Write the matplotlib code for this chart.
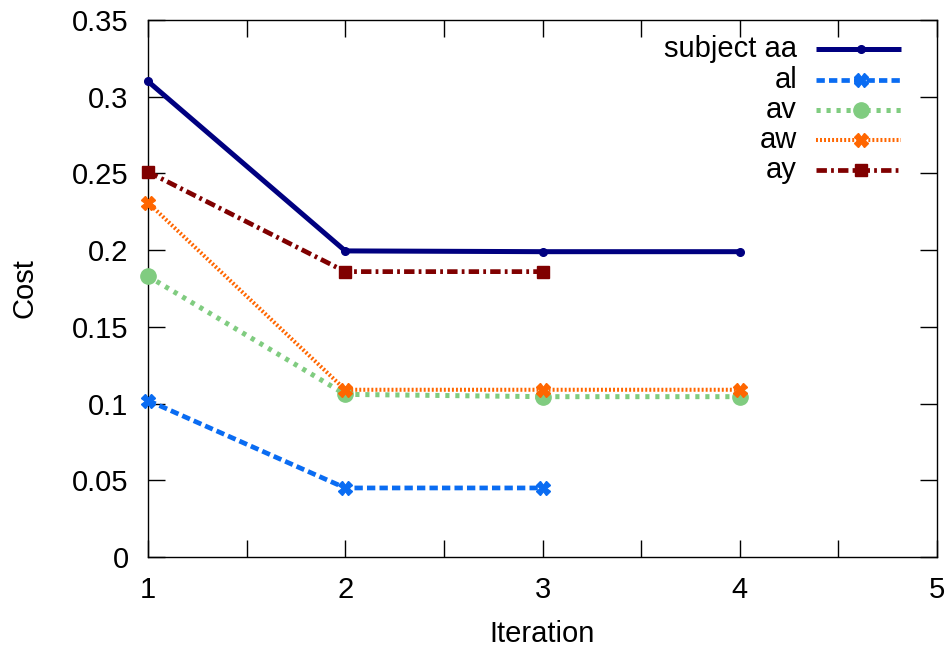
import matplotlib
matplotlib.use("Agg")
import matplotlib.pyplot as plt
from matplotlib.lines import Line2D
from matplotlib.ticker import MultipleLocator, FuncFormatter

plt.rcParams['font.family'] = ['Liberation Sans', 'DejaVu Sans']
plt.rcParams['lines.scale_dashes'] = False

# Cost per iteration for each subject
labels = ["subject aa", "al", "av", "aw", "ay"]
iters_aa = [1, 2, 3, 4]
cost_aa = [0.310, 0.1995, 0.199, 0.199]
iters_al = [1, 2, 3]
cost_al = [0.102, 0.045, 0.045]
iters_av = [1, 2, 3, 4]
cost_av = [0.183, 0.106, 0.1045, 0.1045]
iters_aw = [1, 2, 3, 4]
cost_aw = [0.231, 0.109, 0.109, 0.109]
iters_ay = [1, 2, 3]
cost_ay = [0.251, 0.186, 0.186]

xs = [iters_aa, iters_al, iters_av, iters_aw, iters_ay]
ys = [cost_aa, cost_al, cost_av, cost_aw, cost_ay]

styles = [
    dict(color="#000080", lw=3.6, ls="-", marker="o", ms=5.5),
    dict(color="#0a6cf2", lw=3.4, ls=(0, (6.0, 3.0)), marker="X", ms=9.5),
    dict(color="#80cc80", lw=3.6, ls=(0, (3.0, 4.2)), marker="o", ms=11),
    dict(color="#ff6600", lw=2.9, ls=(0, (1.4, 1.5)), marker="X", ms=10),
    dict(color="#800000", lw=3.4, ls=(0, (7.5, 3.0, 2.0, 3.0)), marker="s", ms=8),
]

fig = plt.figure(figsize=(9.47, 6.49), dpi=100)
ax = fig.add_axes([148 / 947, 92 / 649, 789 / 947, 537 / 649])

for x, y, st in zip(xs, ys, styles):
    ax.plot(x, y, color=st["color"], lw=st["lw"], ls=st["ls"],
            marker=st["marker"], ms=st["ms"], mec=st["color"], mfc=st["color"],
            dash_capstyle="butt", solid_capstyle="butt", clip_on=False, zorder=3)

ax.set_xlim(1, 5)
ax.set_ylim(0, 0.35)

ax.xaxis.set_major_locator(MultipleLocator(1))
ax.xaxis.set_minor_locator(MultipleLocator(0.5))
ax.yaxis.set_major_locator(MultipleLocator(0.05))
ax.yaxis.set_major_formatter(FuncFormatter(lambda v, p: "%g" % round(v, 4)))

ax.tick_params(which="both", direction="in", length=12, width=1.0,
               top=True, right=True, labelsize=21, pad=14)
ax.tick_params(which="minor", length=12)
for s in ax.spines.values():
    s.set_linewidth(1.0)

ax.set_xlabel("Iteration", fontsize=21, labelpad=11)
ax.set_ylabel("Cost", fontsize=21, labelpad=24)

# Key in the upper right: right-aligned labels followed by line samples
row_y = [49, 80, 110, 140, 170]
for lab, st, yp in zip(labels, styles, row_y):
    ya = (557 - yp) / 537
    ax.text((797 - 148) / 789, ya, lab, transform=ax.transAxes,
            ha="right", va="center", fontsize=21)
    ax.add_line(Line2D([(816 - 148) / 789, (901 - 148) / 789], [ya, ya],
                       transform=ax.transAxes, color=st["color"], lw=st["lw"],
                       ls=st["ls"], dash_capstyle="butt", solid_capstyle="butt"))
    ax.add_line(Line2D([(861 - 148) / 789], [ya], transform=ax.transAxes,
                       color=st["color"], marker=st["marker"], ms=st["ms"],
                       mec=st["color"], mfc=st["color"], ls="none"))

fig.savefig("out.png", dpi=100)
